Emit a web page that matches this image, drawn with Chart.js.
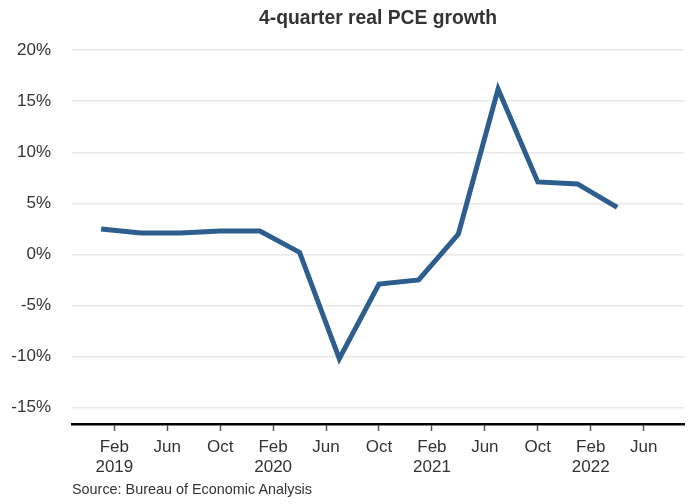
<!DOCTYPE html>
<html>
<head>
<meta charset="utf-8">
<script src="https://cdn.jsdelivr.net/npm/chart.js@4"></script>
<style>
  body { margin: 0; background: #fff; }
  #wrap { position: relative; width: 694px; height: 504px; }
  #source { position: absolute; left: 72px; top: 481px; font: 14.4px 'Liberation Sans', Arial, sans-serif; color: #333; }
</style>
</head>
<body>
<div id="wrap">
  <canvas id="pce" width="694" height="504"></canvas>
  <div id="source">Source: Bureau of Economic Analysis</div>
</div>
<script>
// months since Jan 2019, one point per quarter
const months = [0, 3, 6, 9, 12, 15, 18, 21, 24, 27, 30, 33, 36, 39];
const growth = [2.5, 2.1, 2.1, 2.3, 2.3, 0.2, -10.2, -2.9, -2.5, 2.0, 16.2, 7.1, 6.9, 4.6];
const tickMonths = [1, 5, 9, 13, 17, 21, 25, 29, 33, 37, 41];
const tickLabels = [['Feb', '2019'], 'Jun', 'Oct', ['Feb', '2020'], 'Jun', 'Oct',
  ['Feb', '2021'], 'Jun', 'Oct', ['Feb', '2022'], 'Jun'];
const yTicks = [-15, -10, -5, 0, 5, 10, 15, 20];

const font = 'Liberation Sans, Arial, sans-serif';

const points = months.map((m, i) => ({x: m, y: growth[i]}));

new Chart(document.getElementById('pce'), {
  type: 'line',
  data: {
    datasets: [{
      data: points,
      borderColor: '#2d5e8d',
      borderWidth: 5,
      pointRadius: 0,
      tension: 0,
      borderJoinStyle: 'miter',
      fill: false
    }]
  },
  options: {
    responsive: false,
    animation: false,
    layout: {padding: {left: 0, right: 10, top: 0, bottom: 30}},
    plugins: {
      legend: {display: false},
      tooltip: {enabled: false},
      title: {
        display: true,
        text: '4-quarter real PCE growth',
        fullSize: false,
        color: '#333',
        font: {family: font, size: 19.3, weight: 'bold', lineHeight: 1.2},
        padding: {top: 7, bottom: 20}
      }
    },
    scales: {
      x: {
        type: 'linear',
        min: -2.2,
        max: 44.05,
        afterBuildTicks: (scale) => {
          scale.ticks = tickMonths.map(v => ({value: v}));
        },
        afterFit: (scale) => { scale.height = 50; },
        ticks: {
          autoSkip: false,
          maxRotation: 0,
          color: '#333',
          padding: 7,
          font: {family: font, size: 17, lineHeight: 1.15},
          callback: (v) => tickLabels[tickMonths.indexOf(v)]
        },
        grid: {drawOnChartArea: false, tickLength: 7, tickColor: '#555', tickWidth: 1.5},
        border: {color: '#000', width: 2.5}
      },
      y: {
        min: -16.6,
        max: 20,
        afterBuildTicks: (scale) => {
          scale.ticks = yTicks.map(v => ({value: v}));
        },
        afterFit: (scale) => { scale.width = 72; },
        ticks: {
          color: '#333',
          padding: 21,
          font: {family: font, size: 17},
          callback: (v) => v + '%'
        },
        grid: {color: '#e8e8e8', lineWidth: 1.5, drawTicks: false},
        border: {display: false}
      }
    }
  }
});
</script>
</body>
</html>
